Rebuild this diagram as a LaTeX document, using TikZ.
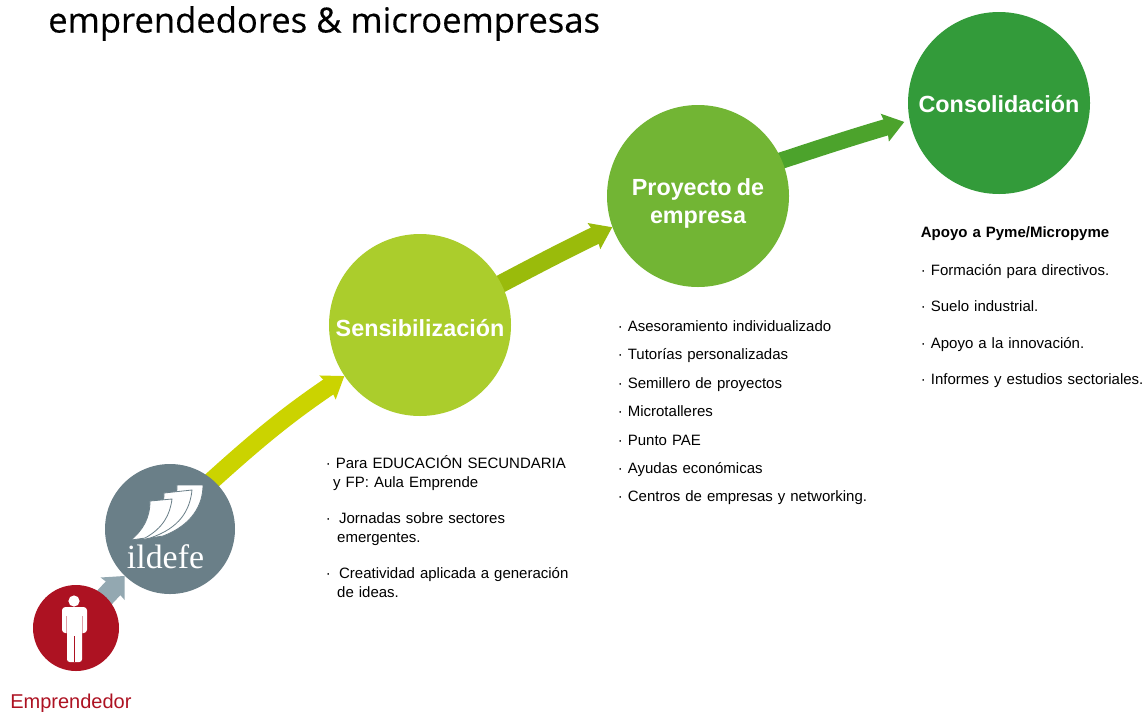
\documentclass[tikz,border=0pt]{standalone}
\usepackage{xcolor}
\usepackage{fontspec}
\usepackage{tikz}
\setmainfont[WordSpace=0.8]{Liberation Sans}
\newfontfamily\titlefont[FakeBold=0.35]{Open Sans}
\newfontfamily\logofont{Liberation Serif}
\usetikzlibrary{positioning, arrows.meta, backgrounds}
\definecolor{slate}{HTML}{6A7F88}
\definecolor{slatelight}{HTML}{93A8B1}
\definecolor{crimson}{HTML}{AD1222}
\definecolor{limeA}{HTML}{ABCD2C}
\definecolor{limeB}{HTML}{72B534}
\definecolor{limeC}{HTML}{339B3A}
\definecolor{flowA}{HTML}{CBD300}
\definecolor{flowB}{HTML}{9ABB0B}
\definecolor{flowC}{HTML}{4CA32C}

\begin{document}
\begin{tikzpicture}[x=0.75pt,y=-0.75pt,
	stage/.style = {circle, inner sep=0pt, minimum size=136.5pt, text=white, align=center, font=\fontsize{17.5}{21}\selectfont\bfseries},
	flow/.style = {line width=13.5pt, -{Stealth[length=15pt,width=21pt,inset=1.5pt]}, shorten <=-6pt},
	item/.style = {inner sep=0pt, text width=190pt, align=left, text height=8.5pt, text depth=2.5pt, font=\fontsize{11.25}{14.2}\selectfont},
	page/.style = {fill=white, draw=slate, line width=0.6pt}]
		\useasboundingbox (0,0) rectangle (1144,711);
		\node[anchor=base west, inner sep=0pt, font=\titlefont\fontsize{25.95}{30}\selectfont] (title) at (48,32.5) {emprendedores \& microempresas};
		\node[circle, fill=crimson, minimum size=64.5pt, inner sep=0pt] (person) at (76,628) {};
		\node[circle, fill=slate, minimum size=97.5pt, inner sep=0pt] (ildefe) at (170,529) {};
		\node[stage, fill=limeA] (sens) at (420,325) {\rule{0pt}{18pt}Sensibilización};
		\node[stage, fill=limeB] (proy) at (698,196) {\rule{0pt}{24pt}Proyecto de\\empresa};
		\node[stage, fill=limeC] (cons) at (999,103) {\rule{0pt}{15pt}Consolidación};
		\node[anchor=base west, inner sep=0pt, text=crimson, font=\fontsize{15}{18}\selectfont] (who) at (10,708) {Emprendedor};
		\begin{scope}[on background layer]
			\draw[flow, line width=15pt, slatelight, -{Stealth[length=13pt,width=24pt,inset=1pt]}] (person.47) to (ildefe.226);
			\draw[flow, flowA] (ildefe.49) to[bend left=4] (sens.214);
			\draw[flow, flowB] (sens.27) to[bend left=1] (proy.200);
			\draw[flow, flowC, line width=12.5pt, shorten >=4pt] (proy.23) to[bend left=1] (cons.191);
		\end{scope}
		\fill[white] (74,601) circle (5.6);
		\fill[white, rounded corners=2.5pt] (62,633) -- (62,607) -- (87,607) -- (87,633) -- cycle;
		\fill[white, rounded corners=2pt] (67,625) -- (82,625) -- (82,662) -- (67,662) -- cycle;
		\draw[crimson, line width=0.6pt] (74.5,636) -- (74.5,662);
		\draw[crimson!40, line width=0.4pt] (66.5,616) -- (66.5,633);
		\draw[crimson!40, line width=0.4pt] (82.5,616) -- (82.5,633);
		\path[page] (150,538) .. controls (170,525) and (177,505) .. (177,485) -- (203,485) .. controls (203,505) and (192,525) .. (163,536) -- cycle;
		\path[page] (141,540) .. controls (157,528) and (164,510) .. (164,493) -- (192,490) .. controls (190,510) and (180,528) .. (150,538) -- cycle;
		\path[page] (131,540) .. controls (143,530) and (150,518) .. (150,501) -- (172,499) .. controls (170,515) and (163,528) .. (145,538) -- cycle;
		\node[inner sep=0pt, anchor=base, text=white, font=\logofont\fontsize{25.4}{28}\selectfont] (logo) at (165.5,568) {ildefe};
		\begin{scope}[node distance=41.25pt]
			\node[item] (s1) at (452.5,464.5) {· Para EDUCACIÓN SECUNDARIA\\\hspace*{5.5pt}y FP: Aula Emprende};
			\node[item] (s2) [below of=s1] {· \hspace*{2.5pt}Jornadas sobre sectores\\\hspace*{8.5pt}emergentes.};
			\node[item] (s3) [below of=s2] {· \hspace*{2.5pt}Creatividad aplicada a generación\\\hspace*{8.5pt}de ideas.};
		\end{scope}
		\begin{scope}[node distance=21.3pt]
			\node[item] (p1) at (744.5,327.5) {· Asesoramiento individualizado};
			\node[item] (p2) [below of=p1] {· Tutorías personalizadas};
			\node[item] (p3) [below of=p2] {· Semillero de proyectos};
			\node[item] (p4) [below of=p3] {· Microtalleres};
			\node[item] (p5) [below of=p4] {· Punto PAE};
			\node[item] (p6) [below of=p5] {· Ayudas económicas};
			\node[item] (p7) [below of=p6] {· Centros de empresas y networking.};
		\end{scope}
		\begin{scope}[node distance=27.2pt]
			\node[item, font=\fontsize{11.25}{14.2}\selectfont\bfseries] (c0) at (1047.5,233.5) {Apoyo a Pyme/Micropyme};
			\node[item] (c1) at (1047.5,271.5) {· Formación para directivos.};
			\node[item] (c2) [below of=c1] {· Suelo industrial.};
			\node[item] (c3) [below of=c2] {· Apoyo a la innovación.};
			\node[item] (c4) [below of=c3] {· Informes y estudios sectoriales.};
		\end{scope}
	\end{tikzpicture}
\end{document}
